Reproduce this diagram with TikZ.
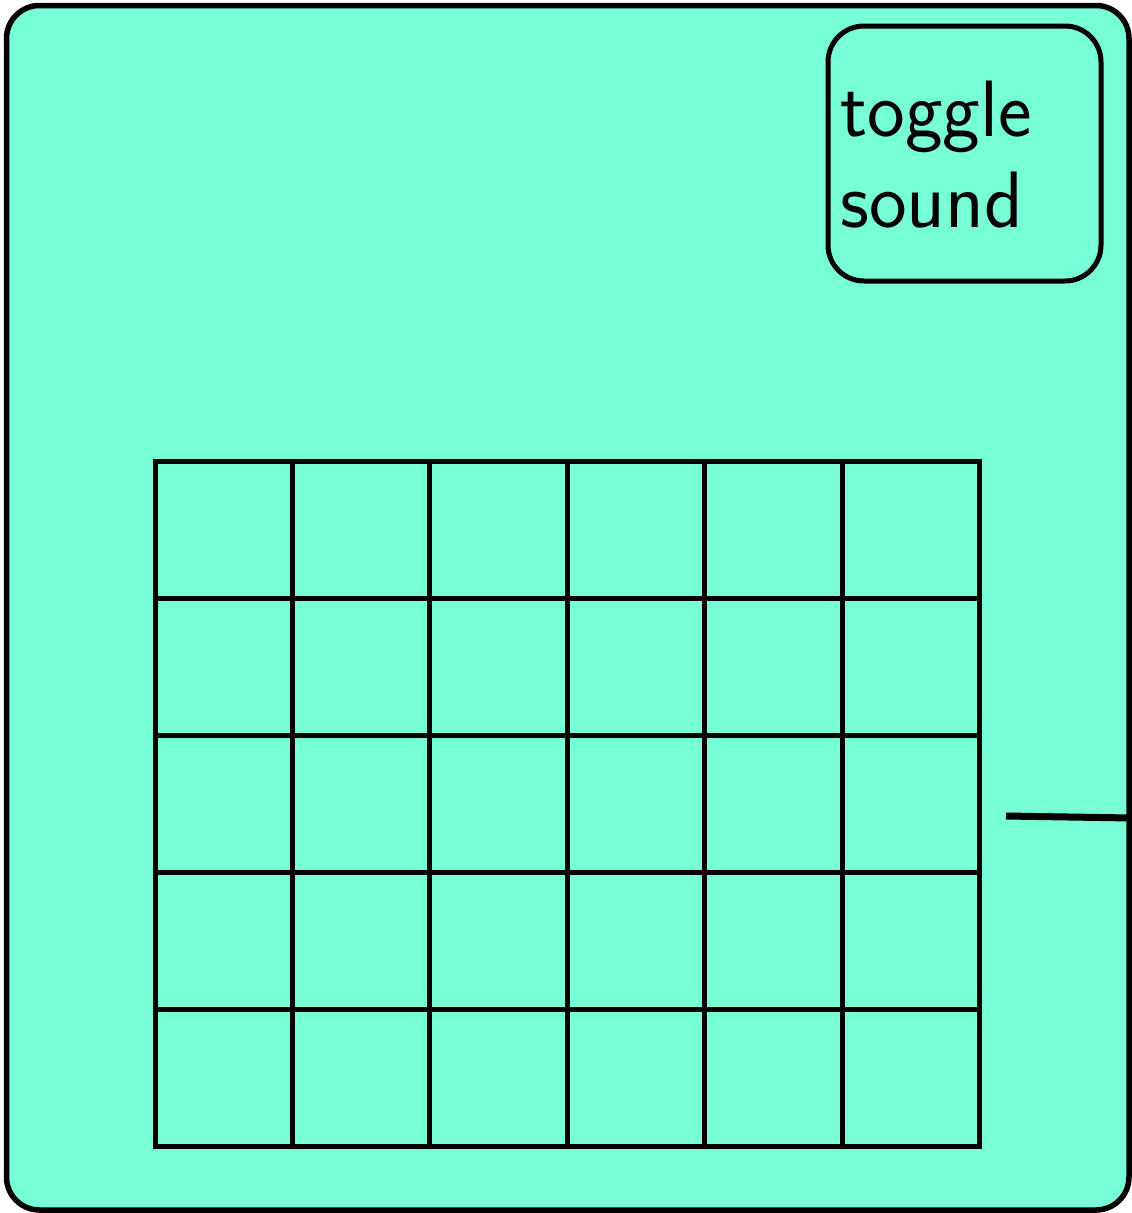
\documentclass[tikz,border=0pt]{standalone}
\usetikzlibrary{positioning}
\definecolor{padfill}{HTML}{78FED6}
\tikzset{
  pad/.style={draw,fill=padfill,rounded corners=33pt,line width=5.5pt,inner sep=0pt},
  togglebox/.style={draw,rounded corners=36pt,line width=5pt,inner sep=0pt},
  padlabel/.style={font=\sffamily\fontsize{80}{91}\selectfont,align=left,inner sep=0pt},
  gridline/.style={line width=5pt,line cap=rect},
}
\newcommand{\cellgrid}{%
  \foreach \i in {0,...,6}
    \draw[gridline] (155+\i*137.42,461.5) -- ++(0,685);
  \foreach \j in {0,...,5}
    \draw[gridline] (155,461.5+\j*137) -- ++(824.5,0);
}

\begin{document}
\begin{tikzpicture}[x=1pt,y=-1pt]
\useasboundingbox (0,0) rectangle (1132,1213);
\node[pad,minimum width=1122.5pt,minimum height=1204.5pt] (pad) at (567.75,607.75) {};
\node[togglebox,minimum width=273pt,minimum height=255pt] (toggle) at (964.5,153.5) {};
\node[padlabel,anchor=south west] (togglelabel) at (840,228) {toggle\\sound};
\cellgrid
\coordinate (stubend) at (1006,816);
\coordinate (stubrow) at (0,818);
\draw[line width=7pt] (stubend) -- (pad.east |- stubrow);
\end{tikzpicture}
\end{document}
